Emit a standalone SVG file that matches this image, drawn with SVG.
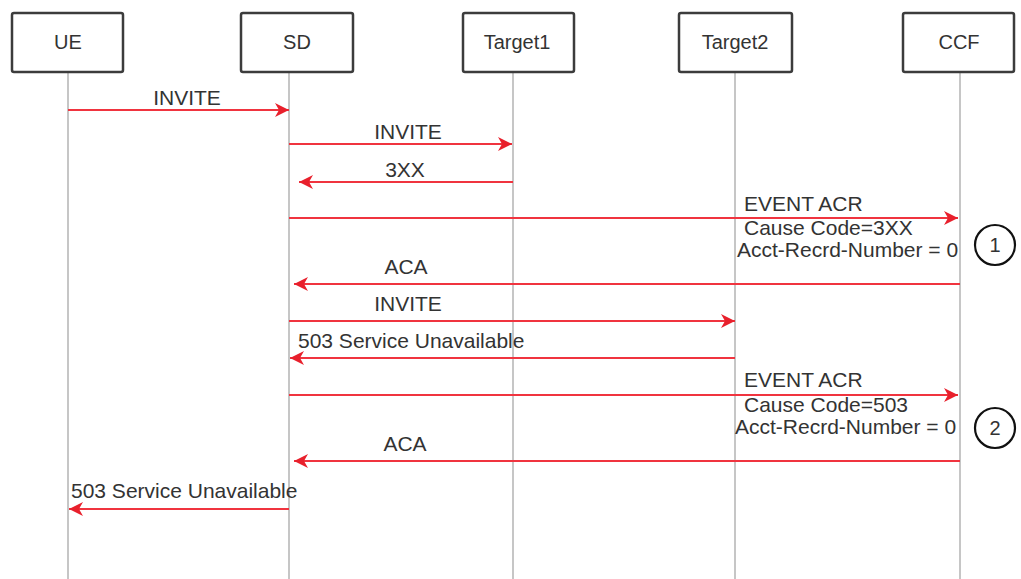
<svg xmlns="http://www.w3.org/2000/svg" width="1021" height="579" viewBox="0 0 1021 579">
<style>
.box{fill:#fff;stroke:#3c3c3c;stroke-width:2.5}
.life{stroke:#c6c6c6;stroke-width:2;fill:none}
.msg{stroke:#f0343f;stroke-width:2;fill:none}
.t{font-family:"Liberation Sans",Arial,sans-serif;font-size:21px;fill:#333}
.nt{font-family:"Liberation Sans",Arial,sans-serif;font-size:20px;fill:#333;text-anchor:middle}
.c{text-anchor:middle}
.circ{fill:#fff;stroke:#111;stroke-width:2.2}
</style>
<defs>
<marker id="ah" markerWidth="16" markerHeight="16" refX="14" refY="7" orient="auto" markerUnits="userSpaceOnUse">
<path d="M14,7 L0,0 L4,7 L0,14 Z" fill="#e8202c"/>
</marker>
</defs>
<rect width="1021" height="579" fill="#fff"/>
<g id="lifelines">
<line class="life" x1="68" y1="72" x2="68" y2="579"/>
<line class="life" x1="289" y1="72" x2="289" y2="579"/>
<line class="life" x1="513" y1="72" x2="513" y2="579"/>
<line class="life" x1="735" y1="72" x2="735" y2="579"/>
<line class="life" x1="960" y1="72" x2="960" y2="579"/>
</g>
<g id="node-UE"><rect class="box" x="12" y="13" width="111" height="59" rx="2"/><text class="nt" x="68" y="49">UE</text></g>
<g id="node-SD"><rect class="box" x="241" y="13" width="112" height="59" rx="2"/><text class="nt" x="297" y="49">SD</text></g>
<g id="node-Target1"><rect class="box" x="463" y="13" width="111" height="59" rx="2"/><text class="nt" x="517" y="49">Target1</text></g>
<g id="node-Target2"><rect class="box" x="679" y="13" width="113" height="59" rx="2"/><text class="nt" x="735" y="49">Target2</text></g>
<g id="node-CCF"><rect class="box" x="903" y="13" width="111" height="59" rx="2"/><text class="nt" x="959" y="49">CCF</text></g>
<g id="connectors">
<line class="msg" x1="68" y1="110" x2="289" y2="110" marker-end="url(#ah)"/>
<line class="msg" x1="289" y1="144" x2="512" y2="144" marker-end="url(#ah)"/>
<line class="msg" x1="513" y1="182" x2="299" y2="182" marker-end="url(#ah)"/>
<line class="msg" x1="289" y1="218" x2="958" y2="218" marker-end="url(#ah)"/>
<line class="msg" x1="960" y1="284" x2="294" y2="284" marker-end="url(#ah)"/>
<line class="msg" x1="289" y1="321" x2="735" y2="321" marker-end="url(#ah)"/>
<line class="msg" x1="735" y1="358" x2="290" y2="358" marker-end="url(#ah)"/>
<line class="msg" x1="289" y1="395" x2="958" y2="395" marker-end="url(#ah)"/>
<line class="msg" x1="960" y1="461" x2="294" y2="461" marker-end="url(#ah)"/>
<line class="msg" x1="289" y1="509" x2="69" y2="509" marker-end="url(#ah)"/>
</g>
<g id="labels">
<text class="t c" x="187" y="105">INVITE</text>
<text class="t c" x="408" y="139">INVITE</text>
<text class="t c" x="405" y="177">3XX</text>
<text class="t" x="744" y="211">EVENT ACR</text>
<text class="t" x="744" y="235">Cause Code=3XX</text>
<text class="t" x="737" y="257">Acct-Recrd-Number = 0</text>
<text class="t c" x="406" y="274">ACA</text>
<text class="t c" x="408" y="311">INVITE</text>
<text class="t" x="298" y="348">503 Service Unavailable</text>
<text class="t" x="744" y="387">EVENT ACR</text>
<text class="t" x="744" y="412">Cause Code=503</text>
<text class="t" x="735" y="434">Acct-Recrd-Number = 0</text>
<text class="t c" x="405" y="451">ACA</text>
<text class="t" x="71" y="498">503 Service Unavailable</text>
</g>
<g id="marker-1"><circle class="circ" cx="995" cy="245" r="20"/><text class="nt" x="995" y="252" fill="#111">1</text></g>
<g id="marker-2"><circle class="circ" cx="995" cy="428" r="20"/><text class="nt" x="995" y="435" fill="#111">2</text></g>
</svg>
